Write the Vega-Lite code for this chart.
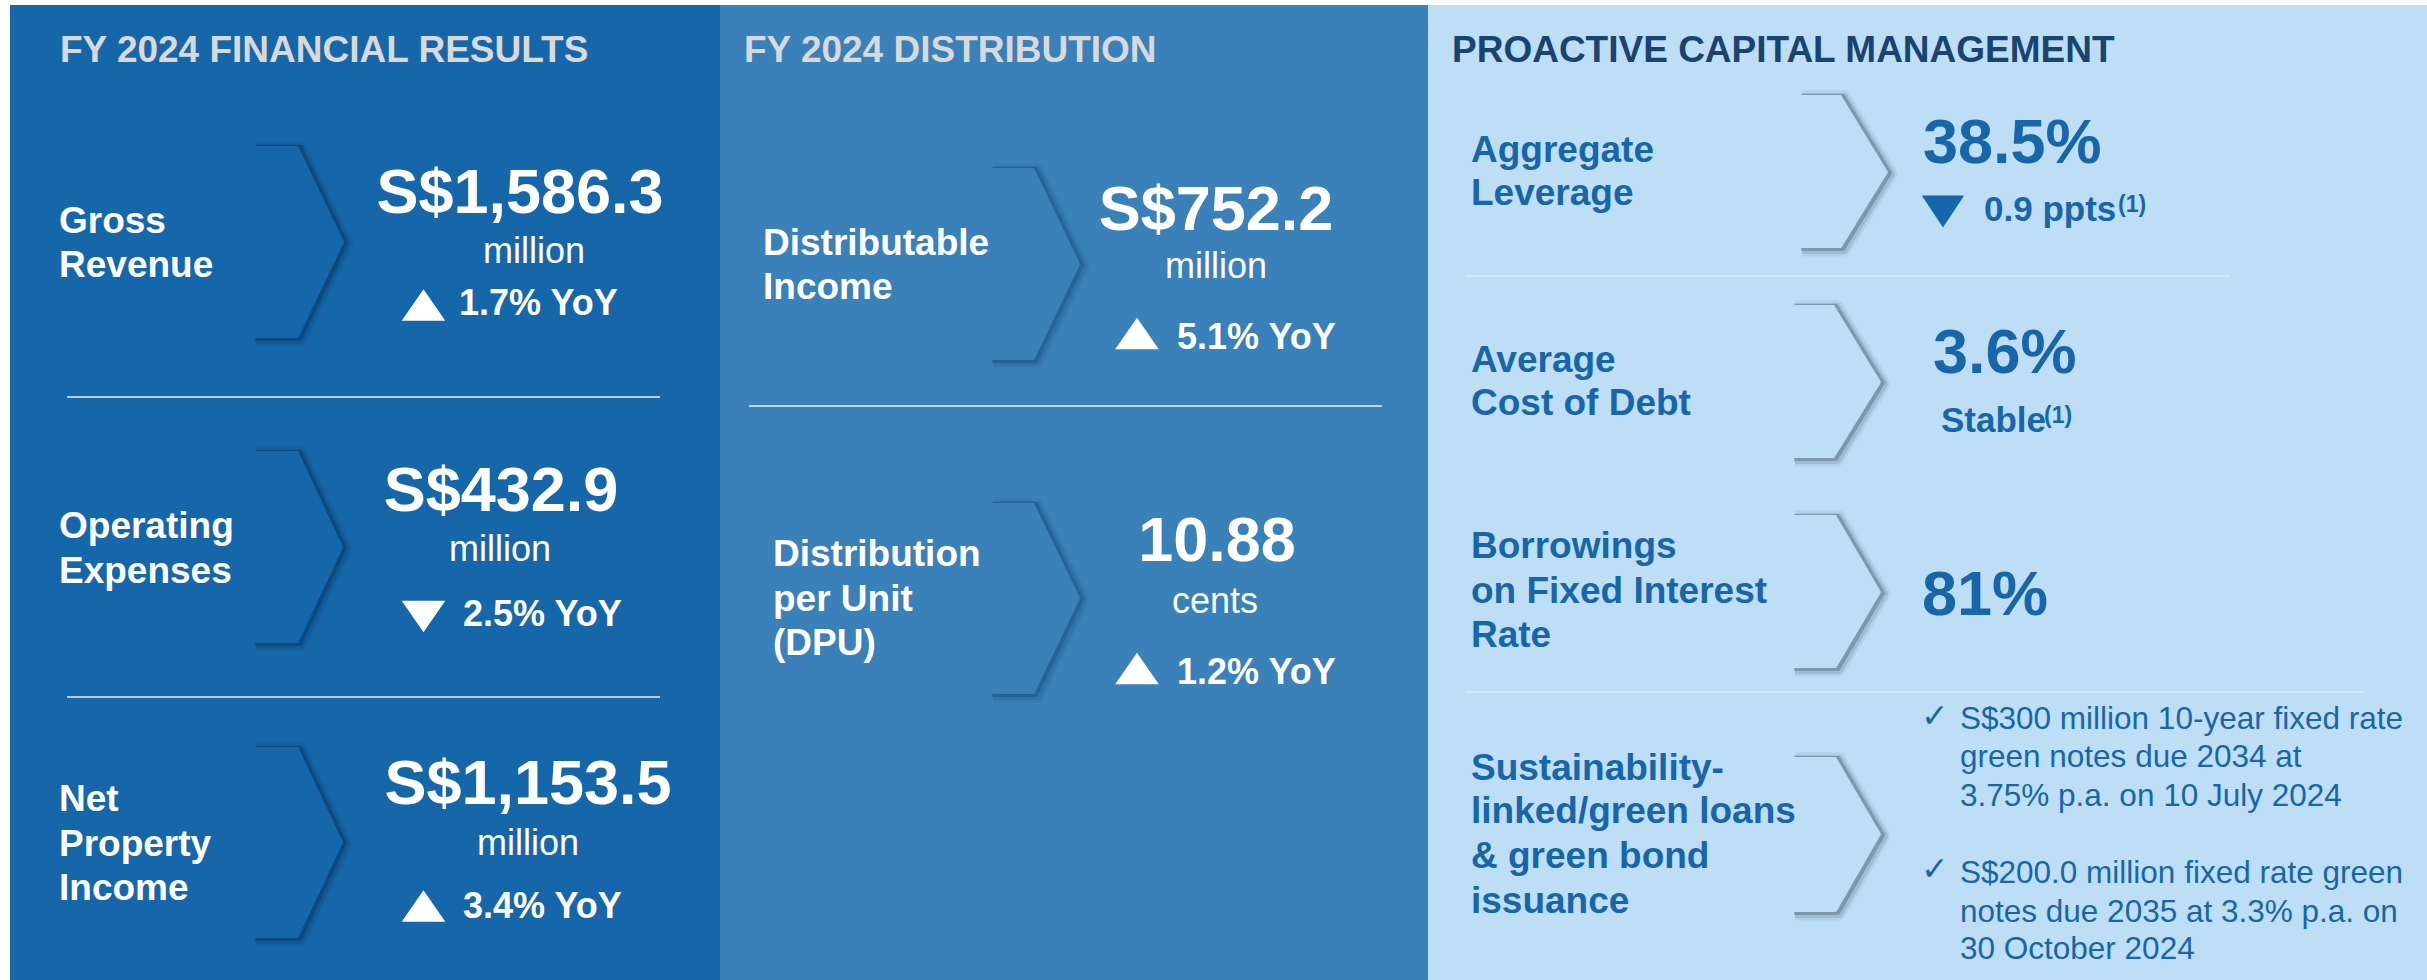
{
  "$schema": "https://vega.github.io/schema/vega-lite/v6.json",
  "width": 2427,
  "height": 980,
  "autosize": {"type": "fit", "contains": "padding"},
  "padding": 0,
  "background": "#FFFFFF",
  "config": {"view": {"stroke": null}, "text": {"font": "Liberation Sans"}},
  "resolve": {"scale": {"color": "independent"}},
  "datasets": {
    "chev": [
      {"c": 1, "p": "a", "o": 1, "x": 253, "y": 146}, {"c": 1, "p": "a", "o": 2, "x": 298, "y": 146}, {"c": 1, "p": "a", "o": 3, "x": 344, "y": 242}, {"c": 1, "p": "a", "o": 4, "x": 298, "y": 338}, {"c": 1, "p": "a", "o": 5, "x": 253, "y": 338},
      {"c": 2, "p": "a", "o": 1, "x": 253, "y": 451}, {"c": 2, "p": "a", "o": 2, "x": 298, "y": 451}, {"c": 2, "p": "a", "o": 3, "x": 343, "y": 547}, {"c": 2, "p": "a", "o": 4, "x": 298, "y": 643}, {"c": 2, "p": "a", "o": 5, "x": 253, "y": 643},
      {"c": 3, "p": "a", "o": 1, "x": 253, "y": 747}, {"c": 3, "p": "a", "o": 2, "x": 298, "y": 747}, {"c": 3, "p": "a", "o": 3, "x": 343, "y": 842}, {"c": 3, "p": "a", "o": 4, "x": 298, "y": 938}, {"c": 3, "p": "a", "o": 5, "x": 253, "y": 938},
      {"c": 4, "p": "b", "o": 1, "x": 990, "y": 168}, {"c": 4, "p": "b", "o": 2, "x": 1034, "y": 168}, {"c": 4, "p": "b", "o": 3, "x": 1080, "y": 264}, {"c": 4, "p": "b", "o": 4, "x": 1034, "y": 360}, {"c": 4, "p": "b", "o": 5, "x": 990, "y": 360},
      {"c": 5, "p": "b", "o": 1, "x": 990, "y": 503}, {"c": 5, "p": "b", "o": 2, "x": 1034, "y": 503}, {"c": 5, "p": "b", "o": 3, "x": 1080, "y": 598}, {"c": 5, "p": "b", "o": 4, "x": 1034, "y": 694}, {"c": 5, "p": "b", "o": 5, "x": 990, "y": 694},
      {"c": 6, "p": "c", "o": 1, "x": 1799, "y": 95}, {"c": 6, "p": "c", "o": 2, "x": 1841, "y": 95}, {"c": 6, "p": "c", "o": 3, "x": 1888, "y": 172}, {"c": 6, "p": "c", "o": 4, "x": 1841, "y": 248}, {"c": 6, "p": "c", "o": 5, "x": 1799, "y": 248},
      {"c": 7, "p": "c", "o": 1, "x": 1792, "y": 305}, {"c": 7, "p": "c", "o": 2, "x": 1834, "y": 305}, {"c": 7, "p": "c", "o": 3, "x": 1881, "y": 382}, {"c": 7, "p": "c", "o": 4, "x": 1834, "y": 458}, {"c": 7, "p": "c", "o": 5, "x": 1792, "y": 458},
      {"c": 8, "p": "c", "o": 1, "x": 1792, "y": 515}, {"c": 8, "p": "c", "o": 2, "x": 1836, "y": 515}, {"c": 8, "p": "c", "o": 3, "x": 1881, "y": 592}, {"c": 8, "p": "c", "o": 4, "x": 1836, "y": 668}, {"c": 8, "p": "c", "o": 5, "x": 1792, "y": 668},
      {"c": 9, "p": "c", "o": 1, "x": 1792, "y": 757}, {"c": 9, "p": "c", "o": 2, "x": 1836, "y": 757}, {"c": 9, "p": "c", "o": 3, "x": 1881, "y": 834}, {"c": 9, "p": "c", "o": 4, "x": 1836, "y": 912}, {"c": 9, "p": "c", "o": 5, "x": 1792, "y": 912}
    ],
    "chevfill": [
      {"c": 1, "p": "a", "y": 146, "xr": 298, "xl": 253}, {"c": 1, "p": "a", "y": 242, "xr": 344, "xl": 253}, {"c": 1, "p": "a", "y": 338, "xr": 298, "xl": 253},
      {"c": 2, "p": "a", "y": 451, "xr": 298, "xl": 253}, {"c": 2, "p": "a", "y": 547, "xr": 343, "xl": 253}, {"c": 2, "p": "a", "y": 643, "xr": 298, "xl": 253},
      {"c": 3, "p": "a", "y": 747, "xr": 298, "xl": 253}, {"c": 3, "p": "a", "y": 842, "xr": 343, "xl": 253}, {"c": 3, "p": "a", "y": 938, "xr": 298, "xl": 253},
      {"c": 4, "p": "b", "y": 168, "xr": 1034, "xl": 990}, {"c": 4, "p": "b", "y": 264, "xr": 1080, "xl": 990}, {"c": 4, "p": "b", "y": 360, "xr": 1034, "xl": 990},
      {"c": 5, "p": "b", "y": 503, "xr": 1034, "xl": 990}, {"c": 5, "p": "b", "y": 598, "xr": 1080, "xl": 990}, {"c": 5, "p": "b", "y": 694, "xr": 1034, "xl": 990},
      {"c": 6, "p": "c", "y": 95, "xr": 1841, "xl": 1799}, {"c": 6, "p": "c", "y": 172, "xr": 1888, "xl": 1799}, {"c": 6, "p": "c", "y": 248, "xr": 1841, "xl": 1799},
      {"c": 7, "p": "c", "y": 305, "xr": 1834, "xl": 1792}, {"c": 7, "p": "c", "y": 382, "xr": 1881, "xl": 1792}, {"c": 7, "p": "c", "y": 458, "xr": 1834, "xl": 1792},
      {"c": 8, "p": "c", "y": 515, "xr": 1836, "xl": 1792}, {"c": 8, "p": "c", "y": 592, "xr": 1881, "xl": 1792}, {"c": 8, "p": "c", "y": 668, "xr": 1836, "xl": 1792},
      {"c": 9, "p": "c", "y": 757, "xr": 1836, "xl": 1792}, {"c": 9, "p": "c", "y": 834, "xr": 1881, "xl": 1792}, {"c": 9, "p": "c", "y": 912, "xr": 1836, "xl": 1792}
    ]
  },
  "encoding": {
    "x": {"field": "x", "type": "quantitative", "scale": {"domain": [0, 2427], "nice": false, "zero": false}, "axis": null},
    "y": {"field": "y", "type": "quantitative", "scale": {"domain": [0, 980], "nice": false, "zero": false, "reverse": true}, "axis": null}
  },
  "layer": [
    {
      "data": {"values": [
        {"x": 10, "x2": 720, "y": 5, "y2": 980, "p": "a"},
        {"x": 720, "x2": 1428, "y": 5, "y2": 980, "p": "b"},
        {"x": 1428, "x2": 2427, "y": 5, "y2": 980, "p": "c"}
      ]},
      "mark": {"type": "rect", "strokeWidth": 0},
      "encoding": {
        "x2": {"field": "x2"},
        "y2": {"field": "y2"},
        "color": {"field": "p", "type": "nominal", "scale": {"domain": ["a", "b", "c"], "range": ["#1667AA", "#3A80B9", "#BEDEF5"]}, "legend": null}
      }
    },
    {
      "data": {"name": "chev"},
      "mark": {"type": "line", "strokeWidth": 13, "opacity": 0.09, "strokeCap": "butt", "strokeJoin": "round", "xOffset": 3, "yOffset": 2},
      "encoding": {
        "order": {"field": "o", "type": "quantitative"},
        "detail": {"field": "c", "type": "nominal"},
        "color": {"field": "p", "type": "nominal", "scale": {"domain": ["a", "b", "c"], "range": ["#06335C", "#17507F", "#4A5E70"]}, "legend": null}
      }
    },
    {
      "data": {"name": "chev"},
      "mark": {"type": "line", "strokeWidth": 8, "opacity": 0.18, "strokeCap": "butt", "strokeJoin": "round", "xOffset": 3, "yOffset": 2},
      "encoding": {
        "order": {"field": "o", "type": "quantitative"},
        "detail": {"field": "c", "type": "nominal"},
        "color": {"field": "p", "type": "nominal", "scale": {"domain": ["a", "b", "c"], "range": ["#06335C", "#17507F", "#4A5E70"]}, "legend": null}
      }
    },
    {
      "data": {"name": "chev"},
      "mark": {"type": "line", "strokeWidth": 4, "opacity": 0.4, "strokeCap": "butt", "strokeJoin": "round", "xOffset": 2, "yOffset": 1},
      "encoding": {
        "order": {"field": "o", "type": "quantitative"},
        "detail": {"field": "c", "type": "nominal"},
        "color": {"field": "p", "type": "nominal", "scale": {"domain": ["a", "b", "c"], "range": ["#06335C", "#17507F", "#4A5E70"]}, "legend": null}
      }
    },
    {
      "data": {"name": "chevfill"},
      "mark": {"type": "area", "orient": "horizontal", "opacity": 1},
      "encoding": {
        "x": {"field": "xr", "type": "quantitative", "stack": null, "scale": {"domain": [0, 2427], "nice": false, "zero": false}, "axis": null},
        "x2": {"field": "xl"},
        "detail": {"field": "c", "type": "nominal"},
        "color": {"field": "p", "type": "nominal", "scale": {"domain": ["a", "b", "c"], "range": ["#1667AA", "#3A80B9", "#BEDEF5"]}, "legend": null}
      }
    },
    {
      "data": {"values": [
        {"x": 67, "x2": 660, "y": 397, "p": "a"},
        {"x": 67, "x2": 660, "y": 697, "p": "a"},
        {"x": 749, "x2": 1382, "y": 406, "p": "b"},
        {"x": 1465, "x2": 2230, "y": 276, "p": "c"},
        {"x": 1465, "x2": 2365, "y": 692, "p": "c"}
      ]},
      "mark": {"type": "rule", "strokeWidth": 2},
      "encoding": {
        "x2": {"field": "x2"},
        "color": {"field": "p", "type": "nominal", "scale": {"domain": ["a", "b", "c"], "range": ["#B9CCDF", "#C9D3DD", "#D9E7F1"]}, "legend": null}
      }
    },
    {
      "data": {"values": [
        {"x": 60, "y": 62, "t": "FY 2024 FINANCIAL RESULTS"},
        {"x": 744, "y": 62, "t": "FY 2024 DISTRIBUTION"}
      ]},
      "mark": {"type": "text", "align": "left", "baseline": "alphabetic", "fontSize": 37, "fontWeight": "bold", "color": "#D9D9D9"},
      "encoding": {"text": {"field": "t"}}
    },
    {
      "data": {"values": [
        {"x": 1452, "y": 62, "t": "PROACTIVE CAPITAL MANAGEMENT"}
      ]},
      "mark": {"type": "text", "align": "left", "baseline": "alphabetic", "fontSize": 37, "fontWeight": "bold", "color": "#1A4470"},
      "encoding": {"text": {"field": "t"}}
    },
    {
      "data": {"values": [
        {"x": 59, "y": 233, "t": "Gross"},
        {"x": 59, "y": 277, "t": "Revenue"},
        {"x": 59, "y": 538, "t": "Operating"},
        {"x": 59, "y": 583, "t": "Expenses"},
        {"x": 59, "y": 811, "t": "Net"},
        {"x": 59, "y": 856, "t": "Property"},
        {"x": 59, "y": 900, "t": "Income"},
        {"x": 763, "y": 255, "t": "Distributable"},
        {"x": 763, "y": 299, "t": "Income"},
        {"x": 773, "y": 566, "t": "Distribution"},
        {"x": 773, "y": 611, "t": "per Unit"},
        {"x": 773, "y": 655, "t": "(DPU)"}
      ]},
      "mark": {"type": "text", "align": "left", "baseline": "alphabetic", "fontSize": 37, "fontWeight": "bold", "color": "#FFFFFF"},
      "encoding": {"text": {"field": "t"}}
    },
    {
      "data": {"values": [
        {"x": 520, "y": 213, "t": "S$1,586.3"},
        {"x": 501, "y": 511, "t": "S$432.9"},
        {"x": 528, "y": 804, "t": "S$1,153.5"},
        {"x": 1216, "y": 230, "t": "S$752.2"},
        {"x": 1217, "y": 561, "t": "10.88"}
      ]},
      "mark": {"type": "text", "align": "center", "baseline": "alphabetic", "fontSize": 63, "fontWeight": "bold", "color": "#FFFFFF"},
      "encoding": {"text": {"field": "t"}}
    },
    {
      "data": {"values": [
        {"x": 534, "y": 263, "t": "million"},
        {"x": 500, "y": 561, "t": "million"},
        {"x": 528, "y": 855, "t": "million"},
        {"x": 1216, "y": 278, "t": "million"},
        {"x": 1215, "y": 613, "t": "cents"}
      ]},
      "mark": {"type": "text", "align": "center", "baseline": "alphabetic", "fontSize": 36, "color": "#FFFFFF"},
      "encoding": {"text": {"field": "t"}}
    },
    {
      "data": {"values": [
        {"x": 459, "y": 315, "t": "1.7% YoY"},
        {"x": 463, "y": 626, "t": "2.5% YoY"},
        {"x": 463, "y": 918, "t": "3.4% YoY"},
        {"x": 1177, "y": 349, "t": "5.1% YoY"},
        {"x": 1177, "y": 684, "t": "1.2% YoY"}
      ]},
      "mark": {"type": "text", "align": "left", "baseline": "alphabetic", "fontSize": 36, "fontWeight": "bold", "color": "#FFFFFF"},
      "encoding": {"text": {"field": "t"}}
    },
    {
      "data": {"values": [
        {"x": 423.5, "y": 305},
        {"x": 423.5, "y": 906},
        {"x": 1137, "y": 333.5},
        {"x": 1137, "y": 668.5}
      ]},
      "mark": {"type": "point", "shape": "M0,-0.72L1,0.72L-1,0.72Z", "size": 1900, "filled": true, "opacity": 1, "color": "#FFFFFF", "strokeWidth": 0},
      "encoding": {}
    },
    {
      "data": {"values": [
        {"x": 423.5, "y": 616.5}
      ]},
      "mark": {"type": "point", "shape": "M-1,-0.72L1,-0.72L0,0.72Z", "size": 1900, "filled": true, "opacity": 1, "color": "#FFFFFF", "strokeWidth": 0},
      "encoding": {}
    },
    {
      "data": {"values": [
        {"x": 1943, "y": 211.5}
      ]},
      "mark": {"type": "point", "shape": "M-1,-0.76L1,-0.76L0,0.76Z", "size": 1800, "filled": true, "opacity": 1, "color": "#1766AA", "strokeWidth": 0},
      "encoding": {}
    },
    {
      "data": {"values": [
        {"x": 1471, "y": 162, "t": "Aggregate"},
        {"x": 1471, "y": 205, "t": "Leverage"},
        {"x": 1471, "y": 372, "t": "Average"},
        {"x": 1471, "y": 415, "t": "Cost of Debt"},
        {"x": 1471, "y": 558, "t": "Borrowings"},
        {"x": 1471, "y": 603, "t": "on Fixed Interest"},
        {"x": 1471, "y": 647, "t": "Rate"},
        {"x": 1471, "y": 780, "t": "Sustainability-"},
        {"x": 1471, "y": 823, "t": "linked/green loans"},
        {"x": 1471, "y": 868, "t": "& green bond"},
        {"x": 1471, "y": 913, "t": "issuance"}
      ]},
      "mark": {"type": "text", "align": "left", "baseline": "alphabetic", "fontSize": 37, "fontWeight": "bold", "color": "#1766AA"},
      "encoding": {"text": {"field": "t"}}
    },
    {
      "data": {"values": [
        {"x": 1923, "y": 163, "t": "38.5%"},
        {"x": 1933, "y": 373, "t": "3.6%"},
        {"x": 1922, "y": 615, "t": "81%"}
      ]},
      "mark": {"type": "text", "align": "left", "baseline": "alphabetic", "fontSize": 63, "fontWeight": "bold", "color": "#1766AA"},
      "encoding": {"text": {"field": "t"}}
    },
    {
      "data": {"values": [
        {"x": 1984, "y": 221, "t": "0.9 ppts"},
        {"x": 1941, "y": 432, "t": "Stable"}
      ]},
      "mark": {"type": "text", "align": "left", "baseline": "alphabetic", "fontSize": 35, "fontWeight": "bold", "color": "#1766AA"},
      "encoding": {"text": {"field": "t"}}
    },
    {
      "data": {"values": [
        {"x": 2118, "y": 212, "t": "(1)"},
        {"x": 2044, "y": 423, "t": "(1)"}
      ]},
      "mark": {"type": "text", "align": "left", "baseline": "alphabetic", "fontSize": 23, "fontWeight": "bold", "color": "#1766AA"},
      "encoding": {"text": {"field": "t"}}
    },
    {
      "data": {"values": [
        {"x": 1921, "y": 727, "t": "✓"},
        {"x": 1921, "y": 880, "t": "✓"}
      ]},
      "mark": {"type": "text", "align": "left", "baseline": "alphabetic", "fontSize": 33, "font": "DejaVu Sans", "color": "#1766AA"},
      "encoding": {"text": {"field": "t"}}
    },
    {
      "data": {"values": [
        {"x": 1960, "y": 729, "t": "S$300 million 10-year fixed rate"},
        {"x": 1960, "y": 767, "t": "green notes due 2034 at"},
        {"x": 1960, "y": 806, "t": "3.75% p.a. on 10 July 2024"},
        {"x": 1960, "y": 883, "t": "S$200.0 million fixed rate green"},
        {"x": 1960, "y": 922, "t": "notes due 2035 at 3.3% p.a. on"},
        {"x": 1960, "y": 959, "t": "30 October 2024"}
      ]},
      "mark": {"type": "text", "align": "left", "baseline": "alphabetic", "fontSize": 31.5, "color": "#1766AA"},
      "encoding": {"text": {"field": "t"}}
    }
  ]
}
